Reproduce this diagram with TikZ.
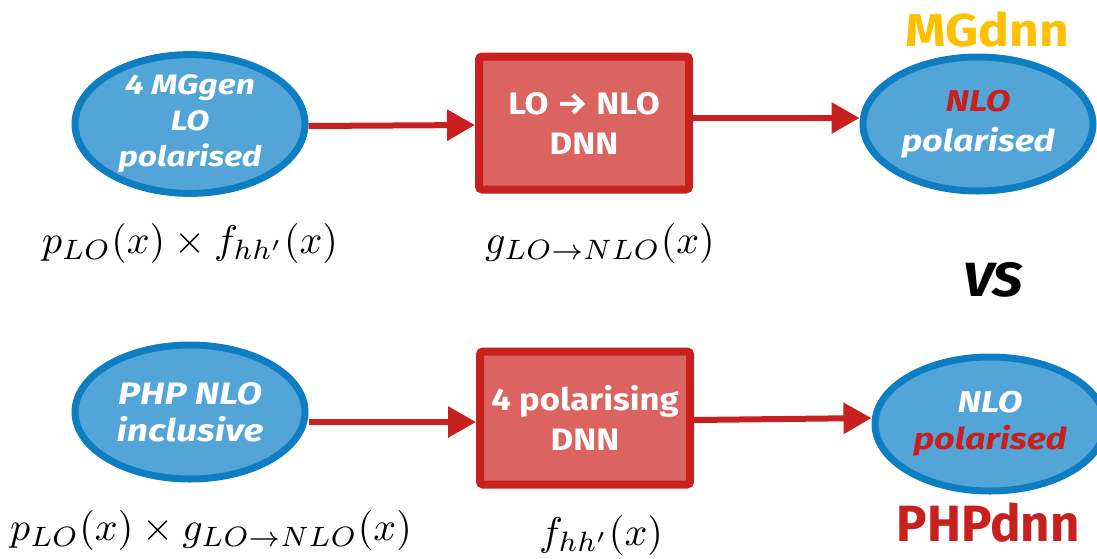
\documentclass[tikz,border=0pt]{standalone}
\usepackage{fontspec}
\setmainfont{Fira Sans}
\newfontfamily\wfont[FakeStretch=1.2]{Fira Sans}
\newfontfamily\bfont[FakeStretch=1.12]{Fira Sans}
\usetikzlibrary{shapes.geometric,arrows.meta}
\definecolor{ellfill}{HTML}{52A5D6}
\definecolor{elldraw}{HTML}{0E7EC3}
\definecolor{boxfill}{HTML}{DB6461}
\definecolor{boxdraw}{HTML}{C8201F}
\definecolor{myred}{HTML}{C8201E}
\definecolor{myyellow}{HTML}{FFC000}
\tikzset{
  ell/.style={ellipse, fill=ellfill, draw=elldraw, line width=7pt,
    minimum width=230pt, minimum height=134pt, inner sep=0pt, text=white,
    font=\wfont\bfseries\itshape\fontsize{28}{36}\selectfont, align=center},
  dnnbox/.style={rectangle, rounded corners=3pt, fill=boxfill, draw=boxdraw,
    line width=8pt, minimum width=210pt, minimum height=133pt, inner sep=0pt,
    text=white, font=\bfont\bfseries\fontsize{31}{40}\selectfont, align=center},
  conn/.style={draw=myred, line width=6pt,
    -{Triangle[length=28pt,width=30pt]}},
  formula/.style={scale=4.0, inner sep=0pt},
  tag/.style={inner sep=0pt, font=\bfont\bfseries\fontsize{46}{50}\selectfont}
}
\begin{document}
\begin{tikzpicture}[x=1pt,y=-1pt]
\useasboundingbox (0,0) rectangle (1097,558);
% top row
\node[ell] (e1) at (190,124) {4 MGgen\\LO\\polarised};
\node[dnnbox] (b1) at (584,123) {LO → NLO\\DNN};
\node[ell, font=\wfont\bfseries\itshape\fontsize{30}{40}\selectfont] (e2) at (978,124) {\textcolor{myred}{NLO}\\polarised};
\draw[conn] ([yshift=-2pt]e1.east) -- ([yshift=-2pt]b1.west);
\draw[conn] ([yshift=5pt]b1.east) -- ([yshift=6pt]e2.west);
% bottom row
\node[ell, font=\wfont\bfseries\itshape\fontsize{31}{37}\selectfont] (e3) at (190,412) {PHP NLO\\inclusive};
\node[dnnbox] (b2) at (585,418) {4 polarising\\DNN};
\node[ell, font=\wfont\bfseries\itshape\fontsize{30}{37}\selectfont] (e4) at (990,424) {NLO\\\textcolor{myred}{polarised}};
\draw[conn] ([yshift=-10pt]e3.east) -- ([yshift=-4pt]b2.west);
\draw[conn] ([yshift=-2pt]b2.east) -- ([yshift=6pt]e4.west);
% formulas
\node[formula] (f1) at (190,243) {$p_{LO}(x)\times f_{hh'}(x)$};
\node[formula] (f2) at (600,243) {$g_{LO\rightarrow NLO}(x)$};
\node[formula] (f3) at (211,530) {$p_{LO}(x)\times g_{LO\rightarrow NLO}(x)$};
\node[formula] (f4) at (601,535) {$f_{hh'}(x)$};
% tags
\node[tag, text=myyellow] (t1) at (987,29) {MGdnn};
\node[tag, font=\bfont\bfseries\itshape\fontsize{48}{54}\selectfont] (t2) at (993,280) {VS};
\node[tag, text=myred, font=\bfseries\fontsize{51}{54}\selectfont] (t3) at (988,523) {PHPdnn};
\end{tikzpicture}
\end{document}
